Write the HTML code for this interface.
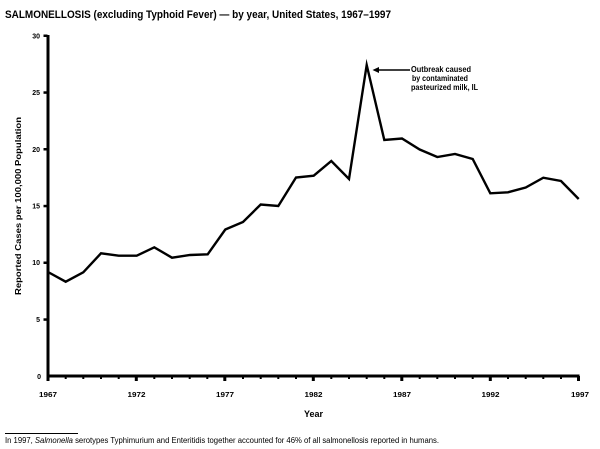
<!DOCTYPE html>
<html><head><meta charset="utf-8"><style>
html,body{margin:0;padding:0;background:#fff;width:600px;height:449px;overflow:hidden}
svg{display:block}
text{font-family:"Liberation Sans",Arial,sans-serif;fill:#000}
</style></head><body>
<svg width="600" height="449" viewBox="0 0 600 449" xmlns="http://www.w3.org/2000/svg">
<text x="5" y="18" font-size="11" font-weight="bold" textLength="386" lengthAdjust="spacingAndGlyphs">SALMONELLOSIS (excluding Typhoid Fever) — by year, United States, 1967–1997</text>

<!-- y axis -->
<rect x="46.5" y="35" width="3" height="343" fill="#000"/>
<!-- x axis -->
<rect x="46.5" y="374.5" width="533" height="3" fill="#000"/>

<!-- y ticks -->
<g fill="#000">
<rect x="43.5" y="34.5" width="4" height="2.5"/>
<rect x="43.5" y="91.3" width="4" height="2.5"/>
<rect x="43.5" y="148" width="4" height="2.5"/>
<rect x="43.5" y="204.8" width="4" height="2.5"/>
<rect x="43.5" y="261.5" width="4" height="2.5"/>
<rect x="43.5" y="318.3" width="4" height="2.5"/>
</g>
<g font-size="7" font-weight="bold" text-anchor="end">
<text x="40" y="38.5">30</text>
<text x="40" y="95">25</text>
<text x="40" y="152">20</text>
<text x="40" y="208.5">15</text>
<text x="40" y="265">10</text>
<text x="40" y="322">5</text>
<text x="41" y="379">0</text>
</g>

<!-- x ticks -->
<g fill="#000">
<rect x="46.5" y="376" width="3" height="5"/>
<rect x="134.8" y="376" width="3" height="5"/>
<rect x="223.3" y="376" width="3" height="5"/>
<rect x="311.8" y="376" width="3" height="5"/>
<rect x="400.3" y="376" width="3" height="5"/>
<rect x="488.8" y="376" width="3" height="5"/>
<rect x="577" y="376" width="3" height="5"/>
<rect x="64.7" y="376" width="2" height="3"/>
<rect x="82.3" y="376" width="2" height="3"/>
<rect x="100" y="376" width="2" height="3"/>
<rect x="117.7" y="376" width="2" height="3"/>
<rect x="153.3" y="376" width="2" height="3"/>
<rect x="171" y="376" width="2" height="3"/>
<rect x="188.7" y="376" width="2" height="3"/>
<rect x="206.3" y="376" width="2" height="3"/>
<rect x="242" y="376" width="2" height="3"/>
<rect x="259.7" y="376" width="2" height="3"/>
<rect x="277.3" y="376" width="2" height="3"/>
<rect x="295" y="376" width="2" height="3"/>
<rect x="330.3" y="376" width="2" height="3"/>
<rect x="348" y="376" width="2" height="3"/>
<rect x="365.7" y="376" width="2" height="3"/>
<rect x="383.3" y="376" width="2" height="3"/>
<rect x="418.7" y="376" width="2" height="3"/>
<rect x="436.3" y="376" width="2" height="3"/>
<rect x="454" y="376" width="2" height="3"/>
<rect x="471.7" y="376" width="2" height="3"/>
<rect x="507" y="376" width="2" height="3"/>
<rect x="524.7" y="376" width="2" height="3"/>
<rect x="542.3" y="376" width="2" height="3"/>
<rect x="560" y="376" width="2" height="3"/>
</g>
<g font-size="7" font-weight="bold" text-anchor="middle">
<text x="48" y="397" textLength="18" lengthAdjust="spacingAndGlyphs">1967</text>
<text x="136.5" y="397" textLength="18" lengthAdjust="spacingAndGlyphs">1972</text>
<text x="225" y="397" textLength="18" lengthAdjust="spacingAndGlyphs">1977</text>
<text x="313.5" y="397" textLength="18" lengthAdjust="spacingAndGlyphs">1982</text>
<text x="402" y="397" textLength="18" lengthAdjust="spacingAndGlyphs">1987</text>
<text x="490.5" y="397" textLength="18" lengthAdjust="spacingAndGlyphs">1992</text>
<text x="580" y="397" textLength="18" lengthAdjust="spacingAndGlyphs">1997</text>
</g>
<text x="313.5" y="417" font-size="9" font-weight="bold" text-anchor="middle">Year</text>

<text transform="translate(21,206) rotate(-90)" font-size="8" font-weight="bold" text-anchor="middle" textLength="178" lengthAdjust="spacingAndGlyphs">Reported Cases per 100,000 Population</text>

<!-- data line -->
<polyline fill="none" stroke="#000" stroke-width="2.4" stroke-linejoin="miter" stroke-miterlimit="10"
points="48,272 65.7,281.7 83.3,272.3 101,253.3 118.7,255.7 136.7,255.7 154.3,247.3 172,257.7 190,255 207.7,254.3 225.3,229.5 243,222 260.7,204.5 278.3,206 296,177.5 313.7,175.7 331.3,161 349,179 366.7,65 384.3,140 402,138.5 419.7,149.5 437.3,157 455,154 472.7,159 490.3,193.3 508,192.3 525.7,187.5 543.3,177.7 561,181 578.7,199"/>

<!-- annotation -->
<line x1="377" y1="70" x2="410" y2="70" stroke="#000" stroke-width="1.6"/>
<polygon points="372.5,70 379,67 379,73" fill="#000"/>
<g font-size="8" font-weight="bold">
<text x="411" y="72" textLength="60" lengthAdjust="spacingAndGlyphs">Outbreak caused</text>
<text x="412" y="81" textLength="56" lengthAdjust="spacingAndGlyphs">by contaminated</text>
<text x="411" y="90" textLength="67" lengthAdjust="spacingAndGlyphs">pasteurized milk, IL</text>
</g>

<!-- footnote -->
<rect x="5" y="433" width="73" height="1" fill="#000"/>
<text x="5" y="443" font-size="8" textLength="434" lengthAdjust="spacingAndGlyphs">In 1997, <tspan font-style="italic">Salmonella</tspan> serotypes Typhimurium and Enteritidis together accounted for 46% of all salmonellosis reported in humans.</text>
</svg>
</body></html>
